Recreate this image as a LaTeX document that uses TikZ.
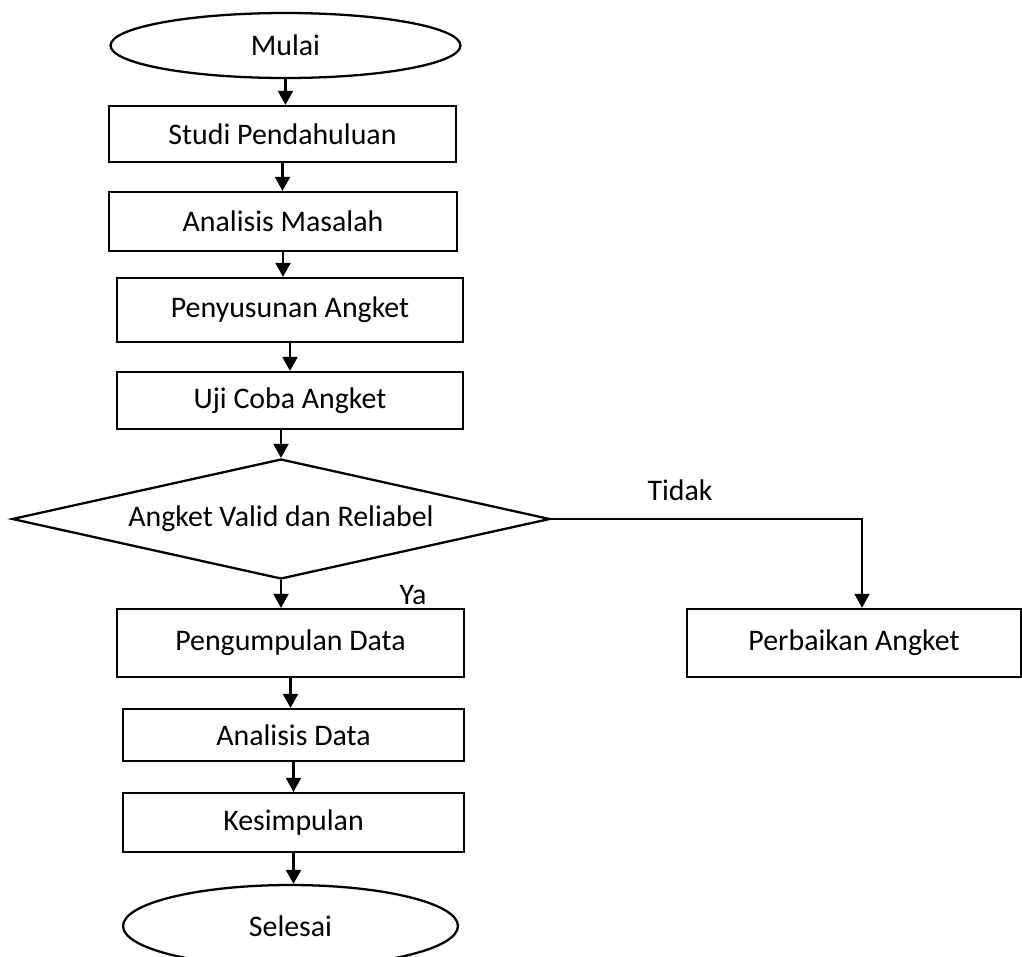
\documentclass[tikz,border=0pt]{standalone}
\usepackage{fontspec}
\setmainfont{Carlito}
\usetikzlibrary{shapes,arrows.meta,positioning,calc}

\begin{document}
\begin{tikzpicture}[x=0.02cm,y=-0.02cm,
  font=\fontsize{17}{20}\selectfont,
  proses/.style={draw,rectangle,line width=1.3pt,minimum width=6.94cm,minimum height=1.2cm,inner sep=2pt},
  terminal/.style={draw,ellipse,line width=1.3pt,minimum width=7cm,minimum height=1.3cm,inner sep=1pt},
  keputusan/.style={draw,diamond,aspect=4.48,line width=1.3pt,minimum width=10.76cm,minimum height=2.4cm,inner sep=0pt},
  panah/.style={line width=1.3pt,-{Triangle[length=0.28cm,width=0.3cm]}},
  label/.style={inner sep=1pt}]
  \useasboundingbox (0,0) rectangle (1022,957);
  % simpul
  \node[terminal] (mulai) at (285.5,45.5) {Mulai};
  \node[proses,minimum width=6.94cm,minimum height=1.12cm] (studi) at (282.5,134) {Studi Pendahuluan};
  \node[proses,minimum width=6.96cm,minimum height=1.18cm] (masalah) at (283,221.5) {Analisis Masalah};
  \node[proses,minimum width=6.92cm,minimum height=1.28cm] (susun) at (290,310) {Penyusunan Angket};
  \node[proses,minimum width=6.92cm,minimum height=1.14cm] (ujicoba) at (290,400.5) {Uji Coba Angket};
  \node[keputusan] (valid) at (281,519) {Angket Valid dan Reliabel};
  \node[proses,minimum width=6.94cm,minimum height=1.36cm] (kumpul) at (290.5,643) {Pengumpulan Data};
  \node[proses,minimum width=6.68cm,minimum height=1.36cm] (perbaikan) at (854,643) {Perbaikan Angket};
  \node[proses,minimum width=6.82cm,minimum height=1.04cm] (andata) at (293.5,735) {Analisis Data};
  \node[proses,minimum width=6.82cm,minimum height=1.18cm] (simpul) at (293.5,822.5) {Kesimpulan};
  \node[terminal,minimum width=6.7cm,minimum height=1.64cm] (selesai) at (290.5,926) {Selesai};
  % panah
  \draw[panah] (mulai.south) -- (mulai.south |- studi.north);
  \draw[panah] (studi.south) -- (studi.south |- masalah.north);
  \draw[panah] (masalah.south) -- (masalah.south |- susun.north);
  \draw[panah] (susun.south) -- (susun.south |- ujicoba.north);
  \draw[panah] (ujicoba.south -| valid.north) -- (valid.north);
  \draw[panah] (valid.south) -- (valid.south |- kumpul.north);
  \draw[panah] (kumpul.south) -- (kumpul.south |- andata.north);
  \draw[panah] (andata.south) -- (andata.south |- simpul.north);
  \draw[panah] (simpul.south) -- (simpul.south |- selesai.north);
  \coordinate (belok) at ([xshift=0.16cm]perbaikan.north);
  \draw[panah,line width=0.7pt] (valid.east) -| (belok);
  % label
  \node[label] (tidak) at (680,490) {Tidak};
  \node[label] (ya) at (413,595) {Ya};
\end{tikzpicture}
\end{document}
